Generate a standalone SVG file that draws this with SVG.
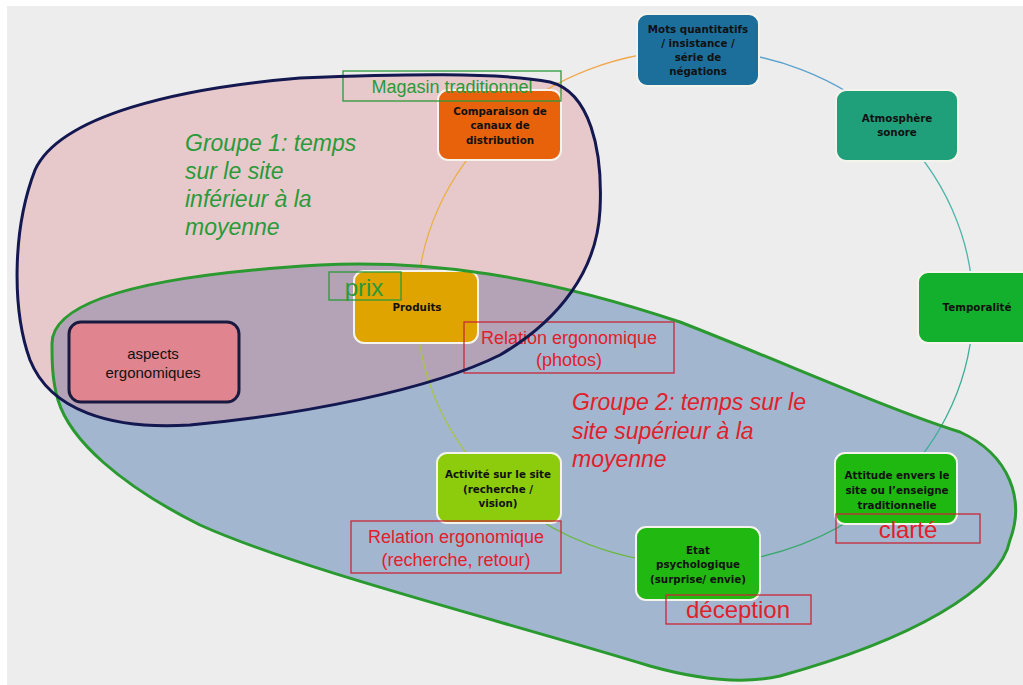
<svg xmlns="http://www.w3.org/2000/svg" width="1023" height="685" viewBox="0 0 1023 685">
<style>
.nt{font-family:"DejaVu Sans",Verdana,sans-serif;font-weight:bold;font-size:10.3px;fill:#111;text-anchor:middle}
.node{stroke:#f4f4ec;stroke-width:2}
.lbl{font-family:"Liberation Sans",Arial,sans-serif;font-size:18px;text-anchor:middle}
.big{font-size:24px}
.red{fill:#e0202a}
.grn{fill:#2a9a3a}
.rbox{fill:none;stroke:#c82838;stroke-width:1.3}
.gbox{fill:none;stroke:#2a9a3a;stroke-width:1.3}
.grp{font-family:"Liberation Sans",Arial,sans-serif;font-style:italic;font-size:23px}
.arc{fill:none;stroke-width:1.3}
</style>
<rect x="0" y="0" width="1023" height="685" fill="#ffffff"/>
<rect x="7" y="6" width="1016" height="679" fill="#ededed"/>

<g id="blob-fills">
<path id="groupe2-fill" d="M 52 345 C 50 300, 150 275, 320 265 C 430 260, 540 275, 680 322 C 790 365, 890 410, 960 432 C 1010 455, 1025 500, 1010 540 C 1000 590, 910 640, 780 676 C 745 684, 700 680, 650 666 C 500 620, 300 570, 200 525 C 120 485, 70 440, 58 400 C 52 380, 52 360, 52 345 Z" fill="#a3b6cf"/>
<path id="groupe1-fill" d="M 300 78 C 400 74, 500 72, 550 82 C 590 92, 603 150, 600 210 C 597 270, 560 320, 500 355 C 430 390, 300 415, 190 425 C 110 430, 50 410, 30 360 C 12 310, 12 230, 35 170 C 60 115, 180 88, 300 78 Z" fill="#df787d" fill-opacity="0.3"/>
</g>

<g id="connectors">
<path class="arc" stroke="#f0a84c" d="M 498.4 125.3 A 278 257 0 0 1 695 50"/>
<path class="arc" stroke="#5aa2cc" d="M 695 50 A 278 257 0 0 1 891.6 125.3"/>
<path class="arc" stroke="#4cb4a8" d="M 891.6 125.3 A 278 257 0 0 1 973 307"/>
<path class="arc" stroke="#3cae98" d="M 973 307 A 278 257 0 0 1 891.6 488.7"/>
<path class="arc" stroke="#3ca870" d="M 891.6 488.7 A 278 257 0 0 1 695 564"/>
<path class="arc" stroke="#6cb848" d="M 695 564 A 278 257 0 0 1 498.4 488.7"/>
<path class="arc" stroke="#a8c448" d="M 498.4 488.7 A 278 257 0 0 1 417 307"/>
<path class="arc" stroke="#e8b048" d="M 417 307 A 278 257 0 0 1 498.4 125.3"/>
</g>

<g id="node-mots">
<rect class="node" x="637" y="14" width="122" height="72" rx="10" fill="#1d6f9b"/>
<text class="nt" x="698" y="33">Mots quantitatifs</text>
<text class="nt" x="698" y="47">/ insistance /</text>
<text class="nt" x="698" y="61">série de</text>
<text class="nt" x="698" y="75">négations</text>
</g>
<g id="node-atmosphere">
<rect class="node" x="836" y="90" width="122" height="71" rx="10" fill="#20a07a"/>
<text class="nt" x="897" y="122">Atmosphère</text>
<text class="nt" x="897" y="136">sonore</text>
</g>
<g id="node-temporalite">
<rect class="node" x="918" y="272" width="122" height="71" rx="10" fill="#12b02c"/>
<text class="nt" x="977" y="311">Temporalité</text>
</g>
<g id="node-attitude">
<rect class="node" x="835" y="453" width="122" height="71" rx="10" fill="#1eb810"/>
<text class="nt" x="897" y="479">Attitude envers le</text>
<text class="nt" x="897" y="494">site ou l’enseigne</text>
<text class="nt" x="897" y="509">traditionnelle</text>
</g>
<g id="node-etat">
<rect class="node" x="636" y="527" width="124" height="73" rx="10" fill="#22b812"/>
<text class="nt" x="698" y="554">Etat</text>
<text class="nt" x="698" y="568">psychologique</text>
<text class="nt" x="698" y="583">(surprise/ envie)</text>
</g>
<g id="node-activite">
<rect class="node" x="437" y="453" width="124" height="70" rx="10" fill="#8ccc0c"/>
<text class="nt" x="498" y="478">Activité sur le site</text>
<text class="nt" x="498" y="493">(recherche /</text>
<text class="nt" x="498" y="507">vision)</text>
</g>
<g id="node-produits">
<rect class="node" x="354" y="271" width="124" height="72" rx="10" fill="#e0a400" stroke="#f4dcb0"/>
<text class="nt" x="417" y="311">Produits</text>
</g>
<g id="node-comparaison">
<rect class="node" x="438" y="90" width="123" height="70" rx="10" fill="#e8620c"/>
<text class="nt" x="500" y="115">Comparaison de</text>
<text class="nt" x="500" y="129">canaux de</text>
<text class="nt" x="500" y="144">distribution</text>
</g>
<g id="node-aspects">
<rect x="69" y="322" width="170" height="80" rx="12" fill="#e0858f" stroke="#1a1a40" stroke-width="3"/>
<text x="153" y="359" font-family="Liberation Sans, Arial, sans-serif" font-size="15" text-anchor="middle" fill="#111">aspects</text>
<text x="153" y="378" font-family="Liberation Sans, Arial, sans-serif" font-size="15" text-anchor="middle" fill="#111">ergonomiques</text>
</g>

<g id="labels">
<rect class="gbox" x="343" y="71" width="218" height="30"/>
<text class="lbl grn" x="452" y="93">Magasin traditionnel</text>
<rect class="gbox" x="329" y="272" width="72" height="28"/>
<text class="lbl big grn" x="364" y="296">prix</text>
<rect class="rbox" x="464" y="322" width="210" height="51"/>
<text class="lbl red" x="569" y="344">Relation ergonomique</text>
<text class="lbl red" x="569" y="366">(photos)</text>
<rect class="rbox" x="351" y="521" width="210" height="52"/>
<text class="lbl red" x="456" y="543">Relation ergonomique</text>
<text class="lbl red" x="456" y="566">(recherche,  retour)</text>
<rect class="rbox" x="836" y="514" width="144" height="29"/>
<text class="lbl big red" x="908" y="538">clarté</text>
<rect class="rbox" x="666" y="595" width="145" height="29"/>
<text class="lbl big red" x="738" y="618">déception</text>
<text class="grp grn" x="185" y="151">Groupe 1: temps</text>
<text class="grp grn" x="185" y="179">sur le site</text>
<text class="grp grn" x="185" y="207">inférieur à la</text>
<text class="grp grn" x="185" y="235">moyenne</text>
<text class="grp red" x="572" y="410">Groupe 2: temps sur le</text>
<text class="grp red" x="572" y="439">site supérieur à la</text>
<text class="grp red" x="572" y="467">moyenne</text>
</g>

<g id="blob-outlines" fill="none" stroke-width="3">
<path id="groupe2-outline" stroke="#2a9a30" d="M 52 345 C 50 300, 150 275, 320 265 C 430 260, 540 275, 680 322 C 790 365, 890 410, 960 432 C 1010 455, 1025 500, 1010 540 C 1000 590, 910 640, 780 676 C 745 684, 700 680, 650 666 C 500 620, 300 570, 200 525 C 120 485, 70 440, 58 400 C 52 380, 52 360, 52 345 Z"/>
<path id="groupe1-outline" stroke="#141850" d="M 300 78 C 400 74, 500 72, 550 82 C 590 92, 603 150, 600 210 C 597 270, 560 320, 500 355 C 430 390, 300 415, 190 425 C 110 430, 50 410, 30 360 C 12 310, 12 230, 35 170 C 60 115, 180 88, 300 78 Z"/>
</g>
</svg>
